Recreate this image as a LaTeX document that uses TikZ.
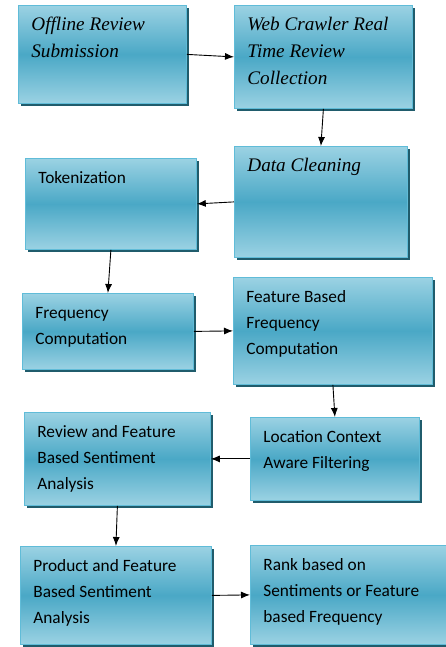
\documentclass[tikz,border=0pt]{standalone}
\usepackage{fontspec}
\setmainfont{Carlito}
\newfontfamily\cambria{Liberation Serif}
\usetikzlibrary{arrows.meta,shadows}
\definecolor{boxtop}{RGB}{155,210,227}
\definecolor{boxmid}{RGB}{74,168,198}
\definecolor{boxedge}{RGB}{96,188,216}
\definecolor{boxshade}{RGB}{32,92,108}
\newcommand{\sans}{\fontsize{17.3}{26}\selectfont}
\newcommand{\ital}{\cambria\itshape\fontsize{19.2}{27}\selectfont}
% text sits in the top left corner of each block
\newcommand{\blocktext}[3]{\parbox[t][#2pt][t]{#1pt}{\raggedright\leftskip=13pt\rule{0pt}{25.5pt}#3}}

\begin{document}
\begin{tikzpicture}
    [x=1pt, y=-1pt,
 block/.style ={rectangle, draw=boxedge, line width=0.8pt, inner sep=0pt, anchor=north west,
 top color=boxtop, bottom color=boxtop, middle color=boxmid,
 drop shadow={shadow xshift=3pt, shadow yshift=-3pt, fill=boxshade, opacity=1}},
 line/.style ={draw, line width=0.9pt, -{Latex[length=9pt,width=7pt]}}]
        \clip (0,0) rectangle (446,647);
        \node[block] (offline) at (18,5) {\blocktext{168}{98}{\ital Offline Review\\Submission}};
        \node[block] (web) at (234,5) {\blocktext{178}{103}{\ital Web Crawler Real\\Time Review\\Collection}};
        \node[block] (clean) at (234,146) {\blocktext{173}{111}{\ital Data Cleaning}};
        \node[block] (token) at (25,158) {\blocktext{171}{91}{\sans Tokenization}};
        \node[block] (freq) at (22,293) {\blocktext{171}{76}{\sans Frequency\\Computation}};
        \node[block] (featfreq) at (233,277) {\blocktext{199}{107}{\sans Feature Based\\Frequency\\Computation}};
        \node[block] (location) at (250,417) {\blocktext{169}{83}{\sans Location Context\\Aware Filtering}};
        \node[block] (review) at (24,412) {\blocktext{186}{93}{\sans Review and Feature\\Based Sentiment\\Analysis}};
        \node[block] (product) at (20,546) {\blocktext{191}{98}{\sans Product and Feature\\Based Sentiment\\Analysis}};
        \node[block] (rank) at (250,545) {\blocktext{200}{99}{\sans Rank based on\\Sentiments or Feature\\based Frequency}};
        \draw[line] (offline.east) -- (web.west);
        \draw[line] (web.south) -- (clean.north);
        \draw[line] (clean.west) -- (token.east);
        \draw[line] (token.south) -- (freq.north);
        \draw[line] (freq.east) -- (featfreq.west);
        \draw[line] (featfreq.south) -- (location.north);
        \draw[line] (location.west) -- (review.east);
        \draw[line] (review.south) -- (product.north);
        \draw[line] (product.east) -- (rank.west);
    \end{tikzpicture}
\end{document}
